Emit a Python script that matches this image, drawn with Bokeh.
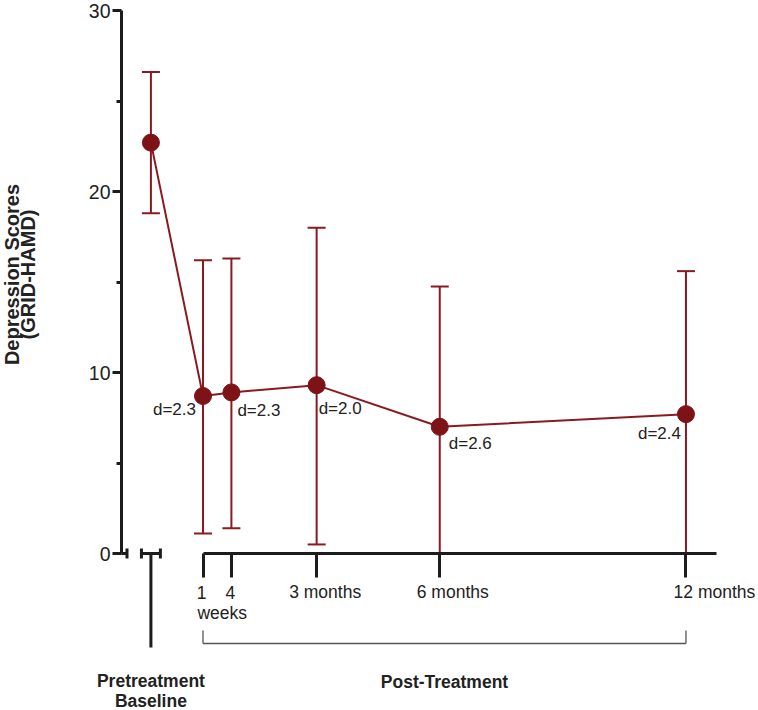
import math
from bokeh.plotting import figure
from bokeh.models import (LinearAxis, FixedTicker, Range1d, ColumnDataSource,
                          Whisker, TeeHead)
from bokeh.core.properties import value
from bokeh.embed import file_html
from bokeh.resources import INLINE

# ---------------- data ----------------
timepoints = ["Pretreatment Baseline", "1 week", "4 weeks", "3 months", "6 months", "12 months"]
weeks = [-4.5, 1, 4, 13, 26, 52]          # time in weeks (baseline placed before treatment)
mean_score = [22.7, 8.7, 8.9, 9.3, 7.0, 7.7]
upper_err = [26.6, 16.2, 16.3, 18.0, 14.75, 15.6]
lower_err = [18.8, 1.1, 1.4, 0.5, 0.0, 0.0]
effect_labels = ["d=2.3", "d=2.3", "d=2.0", "d=2.6", "d=2.4"]   # for the post-treatment points
y_ticks = [0, 10, 20, 30]
y_minor_ticks = [5, 15, 25]
x_ticks = [1, 4, 13, 26, 52]
x_tick_labels = ["1", "4", "3 months", "6 months", "12 months"]
x_unit_label = "weeks"
y_title = ["Depression Scores", "(GRID-HAMD)"]
group_labels = ["Pretreatment", "Baseline", "Post-Treatment"]

# ---------------- layout helpers (pixel geometry) ----------------
W, H = 758, 710
KX = 9.47      # px per week
KY = 18.1      # px per score unit
X0 = 1 - 202.5 / KX
X1 = X0 + W / KX
Y1 = 30 + 10 / KY
Y0 = Y1 - H / KY


def dx(px):
    return X0 + px / KX


def dy(py):
    return Y1 - py / KY


RED = "#8a1a1f"
DOT = "#7e1317"
AX = "#1c1c1c"
FONT = value("Liberation Sans")

p = figure(width=W, height=H, x_range=Range1d(X0, X1), y_range=Range1d(Y0, Y1),
           output_backend="svg", toolbar_location=None,
           x_axis_location=None, y_axis_location=None,
           min_border=0, outline_line_color=None, background_fill_color="white")
p.grid.visible = False

# ---------------- axes ----------------
yax = LinearAxis(fixed_location=dx(121), bounds=(0, 30),
                 ticker=FixedTicker(ticks=y_ticks, minor_ticks=y_minor_ticks),
                 axis_line_width=3, axis_line_color=AX,
                 major_tick_line_width=3, major_tick_line_color=AX,
                 major_tick_out=9, major_tick_in=0,
                 minor_tick_line_width=3, minor_tick_line_color=AX,
                 minor_tick_out=5, minor_tick_in=0,
                 major_label_text_font="Liberation Sans",
                 major_label_text_font_size="19.5px",
                 major_label_text_color="#222222",
                 major_label_standoff=2)
p.add_layout(yax, "left")

xax = LinearAxis(fixed_location=0, bounds=(1, dx(716)),
                 ticker=FixedTicker(ticks=x_ticks, minor_ticks=[]),
                 major_label_overrides={t: "" for t in x_ticks},
                 axis_line_width=3, axis_line_color=AX,
                 major_tick_line_width=3, major_tick_line_color=AX,
                 major_tick_out=24, major_tick_in=0,
                 minor_tick_line_color=None)
p.add_layout(xax, "below")

# broken-axis marks: y-axis stub and the separate baseline segment
pre = weeks[0]
cap = 5 / KY
p.segment(x0=[dx(121), dx(126.5), pre - 1.0, pre - 1.0, pre + 1.0, pre],
          y0=[0, -cap, 0, -cap, -cap, 0],
          x1=[dx(126.5), dx(126.5), pre + 1.0, pre - 1.0, pre + 1.0, pre],
          y1=[0, cap, 0, cap, cap, dy(647)],
          line_color=AX, line_width=3)

# x tick labels
tick_src = ColumnDataSource(dict(x=x_ticks, y=[0] * len(x_ticks), text=x_tick_labels,
                                 xo=[-1.5, -1, 8.5, 13, 28.5]))
p.text(x="x", y="y", text="text", source=tick_src, x_offset="xo", y_offset=38.5,
       text_align="center", text_baseline="middle", text_font=FONT,
       text_font_size="17.5px", text_color="#222222")
p.text(x=[(x_ticks[0] + x_ticks[1]) / 2], y=[0], text=[x_unit_label], x_offset=5, y_offset=59,
       text_align="center", text_baseline="middle", text_font=FONT,
       text_font_size="17.5px", text_color="#222222")

# bracket for post-treatment
p.segment(x0=[x_ticks[0], x_ticks[0], x_ticks[-1]], y0=[dy(630), dy(643), dy(643)],
          x1=[x_ticks[0], x_ticks[-1], x_ticks[-1]], y1=[dy(643), dy(643), dy(630)],
          line_color="#555555", line_width=1.3)

# group labels
p.text(x=[pre, pre], y=[dy(680), dy(700)], text=group_labels[:2],
       text_align="center", text_baseline="middle", text_font=FONT,
       text_font_style="bold", text_font_size="17.5px", text_color="#222222")
p.text(x=[(x_ticks[0] + x_ticks[-1]) / 2], y=[dy(681.5)], text=[group_labels[2]],
       text_align="center", text_baseline="middle", text_font=FONT,
       text_font_style="bold", text_font_size="17.5px", text_color="#222222")

# y-axis title
p.text(x=[dx(11), dx(27)], y=[dy(274), dy(274)], text=y_title, angle=math.pi / 2,
       text_align="center", text_baseline="alphabetic", text_font=FONT,
       text_font_style="bold", text_font_size="20px", text_color="#222222")

# ---------------- data marks ----------------
src = ColumnDataSource(dict(x=weeks, mean=mean_score, upper=upper_err, lower=lower_err,
                            label=timepoints))
whisk = Whisker(base="x", upper="upper", lower="lower", source=src, dimension="height",
                line_color=RED, line_width=2, level="underlay",
                upper_head=TeeHead(size=18, line_color=RED, line_width=2),
                lower_head=TeeHead(size=18, line_color=RED, line_width=2))
p.add_layout(whisk)

p.line(x="x", y="mean", source=src, line_color=RED, line_width=2)
p.scatter(x="x", y="mean", source=src, size=17, marker="circle",
          fill_color=DOT, line_color=DOT)

# effect-size labels
d_src = ColumnDataSource(dict(x=weeks[1:], y=mean_score[1:], text=effect_labels,
                              align=["right", "left", "left", "left", "right"],
                              xo=[-7, 6, 2, 9, -5], yo=[13, 18, 23, 17, 19]))
p.text(x="x", y="y", text="text", source=d_src, x_offset="xo", y_offset="yo",
       text_align="align", text_baseline="middle", text_font=FONT,
       text_font_size="17px", text_color="#222222")

open("out.html", "w").write(file_html(p, INLINE))
